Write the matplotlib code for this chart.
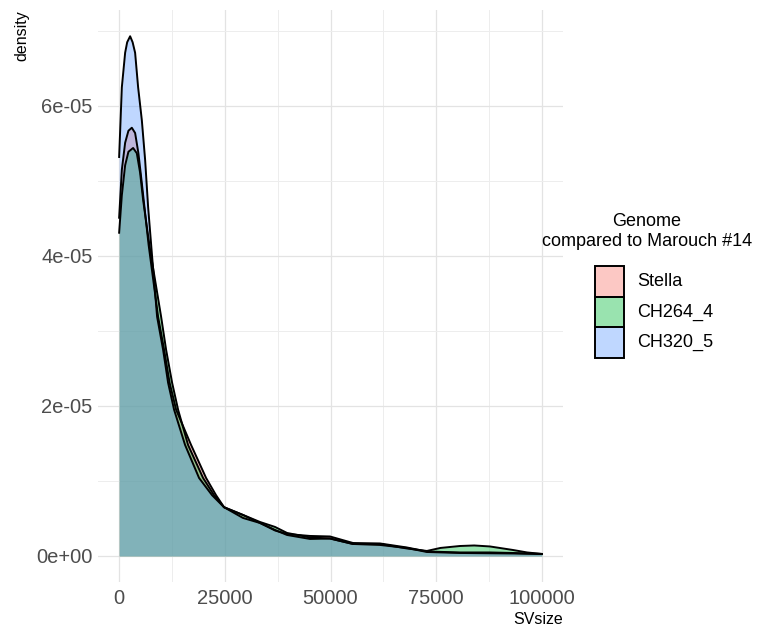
import matplotlib
matplotlib.use("Agg")
import matplotlib.pyplot as plt
from matplotlib.patches import Rectangle
from matplotlib.colors import to_rgba

plt.rcParams["font.family"] = ["Liberation Sans", "DejaVu Sans"]

# density curves (SVsize vs density) per genome
stella_x = [0, 640, 1420, 2200, 3000, 3780, 4560, 5370, 6150, 6970, 9220, 10640,
            11940, 13480, 17020, 20570, 22930, 24820, 29300, 33330, 36880, 39720,
            45150, 49880, 55320, 61700, 68090, 72810, 80620, 87700, 93150, 100000]
stella_y = [4.51e-5, 5.15e-5, 5.51e-5, 5.67e-5, 5.71e-5, 5.64e-5, 5.37e-5, 4.97e-5,
            4.57e-5, 4.15e-5, 3.19e-5, 2.75e-5, 2.31e-5, 1.95e-5, 1.48e-5, 1.04e-5,
            8.1e-6, 6.5e-6, 5.47e-6, 4.4e-6, 3.4e-6, 2.93e-6, 2.67e-6, 2.6e-6,
            1.73e-6, 1.67e-6, 1.13e-6, 6.0e-7, 4.7e-7, 4.7e-7, 4.0e-7, 2.7e-7]

ch264_x = [0, 640, 1420, 2200, 3310, 4180, 4960, 5670, 6550, 7330, 9930, 11110,
           12530, 13950, 16310, 19860, 22460, 24820, 29300, 33330, 36880, 39720,
           45150, 49880, 55320, 61700, 68090, 72810, 76000, 80620, 84000, 87700,
           93150, 96500, 100000]
ch264_y = [4.31e-5, 4.81e-5, 5.21e-5, 5.39e-5, 5.44e-5, 5.37e-5, 5.11e-5, 4.75e-5,
           4.39e-5, 4.08e-5, 3.19e-5, 2.75e-5, 2.31e-5, 1.95e-5, 1.48e-5, 1.04e-5,
           8.1e-6, 6.5e-6, 5.47e-6, 4.53e-6, 3.87e-6, 3.07e-6, 2.47e-6, 2.33e-6,
           1.6e-6, 1.6e-6, 1.0e-6, 6.7e-7, 1.07e-6, 1.33e-6, 1.4e-6, 1.27e-6,
           8.0e-7, 4.7e-7, 2.7e-7]

ch320_x = [0, 640, 1420, 1900, 2600, 3190, 3780, 4490, 5370, 6150, 6860, 7730,
           8980, 10400, 11580, 13000, 15600, 18910, 21990, 24820, 29300, 33330,
           36880, 39720, 45150, 49880, 55320, 61700, 68090, 72810, 80620, 87700,
           93150, 100000]
ch320_y = [5.32e-5, 6.25e-5, 6.71e-5, 6.85e-5, 6.93e-5, 6.85e-5, 6.71e-5, 6.25e-5,
           5.81e-5, 5.28e-5, 4.65e-5, 4.04e-5, 3.19e-5, 2.75e-5, 2.31e-5, 1.95e-5,
           1.48e-5, 1.04e-5, 8.1e-6, 6.5e-6, 5.07e-6, 4.4e-6, 3.47e-6, 2.8e-6,
           2.27e-6, 2.33e-6, 1.6e-6, 1.47e-6, 1.07e-6, 5.3e-7, 4.0e-7, 3.6e-7,
           3.3e-7, 2.7e-7]

genomes = ["Stella", "CH264_4", "CH320_5"]
colors = ["#F8766D", "#00BA38", "#619CFF"]
curves = [(stella_x, stella_y), (ch264_x, ch264_y), (ch320_x, ch320_y)]

x_ticks = [0, 25000, 50000, 75000, 100000]
x_tick_labels = ["0", "25000", "50000", "75000", "100000"]
y_ticks = [0, 2e-5, 4e-5, 6e-5]
y_tick_labels = ["0e+00", "2e-05", "4e-05", "6e-05"]

W, H = 761, 630
fig = plt.figure(figsize=(W / 100, H / 100), dpi=100, facecolor="white")
ax = fig.add_axes([98 / W, 1 - 582 / H, (563 - 98) / W, (582 - 10) / H])

for (x, y), c in zip(curves, colors):
    ax.fill_between(x, y, 0, color=c, alpha=0.4, linewidth=0)
    ax.plot(x, y, color="black", linewidth=1.4, solid_joinstyle="round")

ax.set_xlim(-5000, 105000)
ax.set_ylim(-3.47e-6, 7.28e-5)

ax.set_xticks(x_ticks)
ax.set_xticklabels(x_tick_labels)
ax.set_yticks(y_ticks)
ax.set_yticklabels(y_tick_labels)
ax.set_xticks([12500, 37500, 62500, 87500], minor=True)
ax.set_yticks([1e-5, 3e-5, 5e-5, 7e-5], minor=True)
ax.tick_params(which="both", length=0)
ax.tick_params(axis="both", labelsize=14.5, labelcolor="#4D4D4D")
ax.tick_params(axis="x", pad=5)
ax.tick_params(axis="y", pad=4)

ax.grid(which="major", color="#E3E3E3", linewidth=0.9)
ax.grid(which="minor", color="#EDEDED", linewidth=0.7)
ax.set_axisbelow(True)
for s in ax.spines.values():
    s.set_visible(False)

ax.set_xlabel("SVsize", loc="right", fontsize=11.5, labelpad=3)
ax.set_ylabel("density", loc="top", fontsize=11.5, labelpad=5)

# legend drawn by hand: centred title, keys stacked edge to edge
fig.text(647 / W, 1 - 213 / H, "Genome\ncompared to Marouch #14",
         ha="center", va="top", multialignment="center", fontsize=13)
key_left, key_top, key_w, key_h = 595, 266, 29, 30.7
for i, (g, c) in enumerate(zip(genomes, colors)):
    top = key_top + i * key_h
    fig.add_artist(Rectangle((key_left / W, 1 - (top + key_h) / H), key_w / W, key_h / H,
                             transform=fig.transFigure, facecolor=to_rgba(c, 0.4),
                             edgecolor="black", linewidth=1.4))
    fig.text((key_left + key_w + 13) / W, 1 - (top + key_h / 2) / H, g,
             ha="left", va="center", fontsize=13)

fig.savefig("out.png", dpi=100, facecolor="white")
